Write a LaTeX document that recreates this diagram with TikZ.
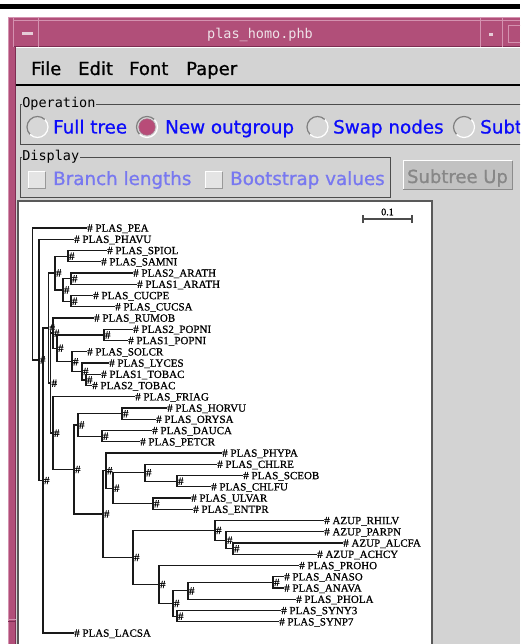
\documentclass[tikz,border=0pt]{standalone}
\usepackage{fontspec}
\newfontfamily\guifont[FakeBold=0.9]{DejaVu Sans}
\newfontfamily\wmfont{DejaVu Sans Mono}
\newfontfamily\treefont[FakeBold=0.7]{Liberation Serif}

\definecolor{wmframe}{RGB}{177,79,121}
\definecolor{wmlight}{RGB}{212,146,176}
\definecolor{wmdark}{RGB}{125,45,82}
\definecolor{wmtext}{RGB}{238,226,232}
\definecolor{panel}{RGB}{211,211,211}
\definecolor{shade}{RGB}{115,115,115}
\definecolor{optblue}{RGB}{12,12,250}
\definecolor{offblue}{RGB}{120,120,240}
\definecolor{offgray}{RGB}{135,135,135}
\definecolor{radiopink}{RGB}{184,76,120}

\begin{document}
\begin{tikzpicture}[x=1pt,y=-1pt,
  branch/.style={draw=black!90, line width=1.25pt},
  leaf/.style={anchor=west, inner sep=0pt, font=\treefont\fontsize{11}{11}\selectfont, text height=7.4pt, text depth=0pt},
  boot/.style={anchor=west, inner xsep=0.8pt, inner ysep=0pt, font=\treefont\fontsize{11}{11}\selectfont, text height=7.4pt, text depth=0pt},
  treeroot/.style={inner sep=0pt, minimum size=0pt},
  menuitem/.style={anchor=base west, inner sep=0pt, font=\guifont\fontsize{18}{18}\selectfont},
  optlabel/.style={anchor=base west, inner sep=0pt, font=\guifont\fontsize{18.3}{18}\selectfont, text=optblue},
  offlabel/.style={optlabel, text=offblue},
  grouptitle/.style={anchor=west, inner xsep=0.6pt, inner ysep=0pt, fill=panel, font=\wmfont\fontsize{13.5}{13.5}\selectfont},
  groove/.style={draw=black!70, line width=0.9pt},
  raised/.style={line width=1pt},
]
\useasboundingbox (0,0) rectangle (520,644);
\clip (0,0) rectangle (520,644);

% page and top rule
\fill[white] (0,0) rectangle (520,644);
\fill[black] (0,4) rectangle (520,9);

% window manager frame
\fill[wmframe] (8,17) rectangle (520,47);
\fill[wmframe] (8,47) rectangle (16,644);
\draw[wmlight, line width=1pt] (8,17.5) -- (520,17.5);
\draw[wmlight, line width=1pt] (8.5,17) -- (8.5,644);
\draw[wmlight] (13,20.5) -- (520,20.5);
\draw[wmdark] (13,46) -- (520,46);
\draw[wmdark] (15.5,47) -- (15.5,644);
\foreach \bx in {13.5,38.5,480.5,502.5} \draw[wmlight] (\bx,17) -- (\bx,47);
\fill[wmtext!85!wmframe] (22,32.5) rectangle (33,35.5);
\fill[wmtext!85!wmframe] (489,33) rectangle (493,36.5);
\draw[wmlight] (508.5,25.5) rectangle (525,42.5);
\draw[wmlight] (8,619.5) -- (16,619.5);
\draw[wmdark] (8,621.5) -- (16,621.5);
\node[anchor=base, inner sep=0pt, font=\wmfont\fontsize{13.5}{13.5}\selectfont, text=wmtext] (title) at (260,39) {plas\_homo.phb};

% application panel and menu bar
\fill[panel] (16,47) rectangle (520,644);
\draw[white] (16,47.5) -- (520,47.5);
\draw[shade, line width=1.5pt] (16,85) -- (520,85);
\node[menuitem] (mfile) at (31,75) {File};
\node[menuitem] (medit) at (78,75) {Edit};
\node[menuitem] (mfont) at (129,75) {Font};
\node[menuitem] (mpaper) at (186,75) {Paper};

% Operation group
\draw[groove] (20,104) rectangle (530,144);
\node[grouptitle] (optitle) at (21.5,104) {Operation};
\foreach \cx in {37.5,147,317.5,464} {
  \fill[panel!90!white] (\cx,127) circle (10.5);
  \draw[black!50, line width=1.2pt] (\cx,127) ++(135:10.5) arc (135:315:10.5);
  \draw[white, line width=1.2pt] (\cx,127) ++(315:10.5) arc (315:495:10.5);
}
\fill[radiopink] (147,127) circle (8.2);
\draw[wmdark!70, line width=0.6pt] (147,127) circle (8.2);
\node[optlabel] (opfull) at (53,133.5) {Full tree};
\node[optlabel] (opout) at (165,133.5) {New outgroup};
\node[optlabel] (opswap) at (333,133.5) {Swap nodes};
\node[optlabel] (opsub) at (480,133.5) {Subt};

% Display group
\draw[groove] (20,157) rectangle (390,197);
\node[grouptitle] (distitle) at (21.5,157) {Display};
\foreach \bx in {28,205} {
  \fill[panel!60!white] (\bx,172) rectangle (\bx+17,189);
  \draw[white, raised] (\bx,189) -- (\bx,172) -- (\bx+17,172);
  \draw[black!40, raised] (\bx+17,172) -- (\bx+17,189) -- (\bx,189);
}
\node[offlabel] (dbranch) at (53,185) {Branch lengths};
\node[offlabel] (dboot) at (230,185) {Bootstrap values};

% Subtree Up button
\fill[panel!92!black] (403,161) rectangle (512,190);
\draw[white, raised] (403,190) -- (403,161) -- (512,161);
\draw[black!45, raised] (512,161) -- (512,190) -- (403,190);
\node[anchor=base, inner sep=0pt, font=\guifont\fontsize{18}{18}\selectfont, text=offgray] (bup) at (457.5,183) {Subtree Up};

% tree canvas
\fill[white] (19,202) rectangle (431,644);
\draw[black!65, line width=2pt] (18,646) -- (18,201) -- (432,201) -- (432,646);

% scale bar
\coordinate (sbl) at (363,219);
\coordinate (sbr) at (412,219);
\draw[black!70, line width=1.3pt] (sbl) -- (sbr);
\draw[black!70, line width=1.3pt] ([yshift=-4pt]sbl) -- ([yshift=4pt]sbl);
\draw[black!70, line width=1.3pt] ([yshift=-4pt]sbr) -- ([yshift=4pt]sbr);
\node[inner sep=0pt, font=\treefont\fontsize{10}{10}\selectfont] (sblab) at (387.5,212) {0.1};

% leaves: name / tip x / row
\foreach \n/\x/\i/\t in {
  pea/87/0/PLAS\_PEA, phavu/74/1/PLAS\_PHAVU, spiol/107/2/PLAS\_SPIOL,
  samni/101/3/PLAS\_SAMNI, arathb/133/4/PLAS2\_ARATH, aratha/137/5/PLAS1\_ARATH,
  cucpe/93/6/PLAS\_CUCPE, cucsa/115/7/PLAS\_CUCSA, rumob/94/8/PLAS\_RUMOB,
  popnib/133/9/PLAS2\_POPNI, popnia/128/10/PLAS1\_POPNI, solcr/87/11/PLAS\_SOLCR,
  lyces/109/12/PLAS\_LYCES, tobaca/101/13/PLAS1\_TOBAC, tobacb/92/14/PLAS2\_TOBAC,
  friag/135/15/PLAS\_FRIAG, horvu/167/16/PLAS\_HORVU, orysa/156/17/PLAS\_ORYSA,
  dauca/152/18/PLAS\_DAUCA, petcr/140/19/PLAS\_PETCR, phypa/222/20/PLAS\_PHYPA,
  chlre/217/21/PLAS\_CHLRE, sceob/243/22/PLAS\_SCEOB, chlfu/211/23/PLAS\_CHLFU,
  ulvar/191/24/PLAS\_ULVAR, entpr/193/25/PLAS\_ENTPR, rhilv/324/26/AZUP\_RHILV,
  parpn/324/27/AZUP\_PARPN, alcfa/343/28/AZUP\_ALCFA, achcy/317/29/AZUP\_ACHCY,
  proho/299/30/PLAS\_PROHO, anaso/284/31/PLAS\_ANASO, anava/284/32/PLAS\_ANAVA,
  phola/296/33/PLAS\_PHOLA, syny/281/34/PLAS\_SYNY3, synp/279/35/PLAS\_SYNP7,
  lacsa/74/36/PLAS\_LACSA}
  \node[leaf] (\n) at (\x,{228+11.25*\i}) {\# \t};

% internal nodes with bootstrap marks
\node[treeroot] (root) at (33,293.94) {};
\foreach \n/\x/\y in {
  B/39/359.9, C/43/480.5, D/48.5/328.05, E/55/273, G/68/256.13, H/63/289.88,
  AR/71/278.63, CU/71/301.13, I/50.5/383.1, P/53/333.12, Q/57/348.23,
  PO/104/334.88, S/72/361.59, T/82/371.44, U/86/379.88, J/53/433.09,
  K/74/469.44, M/78/424.88, HO/122/413.63, DP/102/436.13, V/103/514,
  W/106/470.58, Z/113/488.16, AA/145/472.69, CC/177/481.13, BB/153/503.63,
  Y/133/557.41, AZ/215/530.34, AZm/226/540.19, AZi/233/548.63, CY/159/584.48,
  DD/173/603.47, EE/188/590.81, GG/273/582.38, FF/177/616.13}
  \node[boot] (\n) at (\x,\y) {\#};

% branches, parent to child
\foreach \p/\c in {
  root/pea, root/B, B/phavu, B/C, C/D, C/lacsa, D/E, D/I,
  E/G, E/H, G/spiol, G/samni, H/AR, H/CU, AR/arathb, AR/aratha,
  CU/cucpe, CU/cucsa, I/P, I/J, P/rumob, P/Q, Q/PO, Q/S,
  PO/popnib, PO/popnia, S/solcr, S/T, T/lyces, T/U, U/tobaca, U/tobacb,
  J/friag, J/K, K/M, K/V, M/HO, M/DP, HO/horvu, HO/orysa, DP/dauca, DP/petcr,
  V/W, V/Y, W/phypa, W/Z, Z/AA, Z/BB, AA/chlre, AA/CC, CC/sceob, CC/chlfu,
  BB/ulvar, BB/entpr, Y/AZ, Y/CY, AZ/rhilv, AZ/AZm, AZm/parpn, AZm/AZi,
  AZi/alcfa, AZi/achcy, CY/proho, CY/DD, DD/EE, DD/FF, EE/GG, EE/phola,
  GG/anaso, GG/anava, FF/syny, FF/synp}
  \draw[branch] (\p.west) |- (\c.west);
\end{tikzpicture}
\end{document}
